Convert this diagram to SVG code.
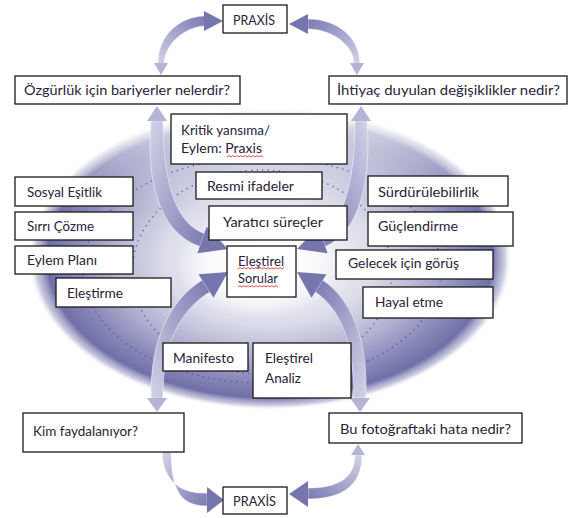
<svg xmlns="http://www.w3.org/2000/svg" width="569" height="518" viewBox="0 0 569 518">
<defs>
<style>
.box{fill:#fff;stroke:#1a1a1a;stroke-width:1.3}
.t{font-family:Lato,"Liberation Sans",sans-serif;font-size:14px;fill:#2a2238}
.arr{stroke:#ffffff;stroke-width:0.7;stroke-opacity:0.7}
.big{fill:#7676ae}
.small{fill:#b4b4d6}
.dot{fill:none;stroke:#4e4e84;stroke-width:1.5;stroke-dasharray:0.1 5.5;stroke-linecap:round;opacity:0.75}
.sq{fill:none;stroke:#e0202a;stroke-width:0.8}
</style>
<radialGradient id="sphere" gradientUnits="userSpaceOnUse" cx="270" cy="258" r="242" gradientTransform="translate(270 258) scale(1 0.628) translate(-270 -258)">
<stop offset="0" stop-color="#ffffff"/>
<stop offset="0.25" stop-color="#f0f0f6"/>
<stop offset="0.45" stop-color="#dadae9"/>
<stop offset="0.65" stop-color="#b2b2d1"/>
<stop offset="0.82" stop-color="#8686b8"/>
<stop offset="0.92" stop-color="#7070a8"/>
<stop offset="0.97" stop-color="#a8a8cc" stop-opacity="0.6"/>
<stop offset="1" stop-color="#ffffff" stop-opacity="0"/>
</radialGradient>
<radialGradient id="spot">
<stop offset="0" stop-color="#ffffff" stop-opacity="0.95"/>
<stop offset="0.6" stop-color="#ffffff" stop-opacity="0.7"/>
<stop offset="1" stop-color="#ffffff" stop-opacity="0"/>
</radialGradient>
<linearGradient id="topfade" gradientUnits="userSpaceOnUse" x1="0" y1="100" x2="0" y2="210">
<stop offset="0" stop-color="#ffffff" stop-opacity="1"/>
<stop offset="0.45" stop-color="#ffffff" stop-opacity="0.5"/>
<stop offset="1" stop-color="#ffffff" stop-opacity="0"/>
</linearGradient>
<linearGradient id="gur" x1="0" y1="1" x2="1" y2="0"><stop offset="0" stop-color="#d2d2e8"/><stop offset="1" stop-color="#7a7ab2"/></linearGradient>
<linearGradient id="gul" x1="1" y1="1" x2="0" y2="0"><stop offset="0" stop-color="#d2d2e8"/><stop offset="1" stop-color="#7a7ab2"/></linearGradient>
<linearGradient id="gdr" x1="0" y1="0" x2="1" y2="1"><stop offset="0" stop-color="#d2d2e8"/><stop offset="1" stop-color="#7a7ab2"/></linearGradient>
<linearGradient id="gdl" x1="1" y1="0" x2="0" y2="1"><stop offset="0" stop-color="#d2d2e8"/><stop offset="1" stop-color="#7a7ab2"/></linearGradient>
</defs>

<g id="background">
<rect x="0" y="0" width="569" height="518" fill="#ffffff"/>
<ellipse cx="270" cy="258" rx="242" ry="152" fill="url(#sphere)"/>
<rect x="0" y="95" width="569" height="120" fill="url(#topfade)"/>
<ellipse cx="258" cy="268" rx="82" ry="50" fill="url(#spot)"/>
<ellipse class="dot" cx="262" cy="270" rx="179" ry="113"/>
<ellipse class="dot" cx="262" cy="272" rx="130" ry="102"/>
</g>

<g id="connectors">
<path class="arr" fill="url(#gur)" d="M158,64 C157,36 180,16 205,16 L205,26 C186,27 165,42 164,64 Z"/>
<polygon class="big" points="223,21 204,11 204,31"/>
<polygon class="small" points="161,75 154,63 168,63"/>
<path class="arr" fill="url(#gul)" d="M360,64 C360,38 338,19 308,19 L308,29 C330,29 354,44 354,64 Z"/>
<polygon class="big" points="289,24 308,14 308,34"/>
<polygon class="small" points="357,75 350,63 364,63"/>
<path class="arr" fill="url(#gdr)" d="M162,452 C163,482 182,494 207,493 L207,506 C176,506 172,484 171,452 Z"/>
<polygon class="big" points="224,500 207,487 207,513"/>
<path class="arr" fill="url(#gdl)" d="M355,455 C355,478 338,488 308,488 L308,499 C343,499 362,485 362,455 Z"/>
<polygon class="big" points="289,494 308,481 308,507"/>
<polygon class="small" points="358,444 351,455 365,455"/>
<path class="arr" fill="url(#gdr)" d="M151,121 C146,185 160,232 199.7,246.6 L204.3,233.4 C176,224 163,182 163,121 Z"/>
<polygon class="big" points="228,249 206.6,226.8 197.4,253.2"/>
<polygon class="small" points="157,106 147,121 167,121"/>
<path class="arr" fill="url(#gdl)" d="M367,121 C372,185 358,232 325.3,246.6 L320.7,233.4 C343,224 355,182 355,121 Z"/>
<polygon class="big" points="297,249 318.4,226.8 327.6,253.2"/>
<polygon class="small" points="361,106 351,121 371,121"/>
<path class="arr" fill="url(#gur)" d="M202.2,280.1 C170,300 150,340 151,398 L163,398 C162,345 180,310 209.8,291.9 Z"/>
<polygon class="big" points="228,272 213.5,297.8 198.5,274.2"/>
<polygon class="small" points="157,412 147,398 167,398"/>
<path class="arr" fill="url(#gul)" d="M322.8,280.1 C352,300 368,340 366,398 L354,398 C354,345 342,310 315.2,291.9 Z"/>
<polygon class="big" points="297,272 311.5,297.8 326.5,274.2"/>
<polygon class="small" points="360,412 350,398 370,398"/>
</g>

<g id="praxis-top"><rect class="box" x="223" y="5" width="64" height="28"/><text class="t" x="233" y="25" textLength="42" lengthAdjust="spacingAndGlyphs">PRAXİS</text></g>
<g id="ozgurluk"><rect class="box" x="15" y="76" width="225" height="28"/><text class="t" x="24" y="95" textLength="206" lengthAdjust="spacingAndGlyphs">Özgürlük için bariyerler nelerdir?</text></g>
<g id="ihtiyac"><rect class="box" x="329" y="76" width="238" height="28"/><text class="t" x="337" y="95" textLength="223" lengthAdjust="spacingAndGlyphs">İhtiyaç duyulan değişiklikler nedir?</text></g>
<g id="kritik"><rect class="box" x="171" y="114" width="176" height="50"/><text class="t" x="181" y="135" textLength="89" lengthAdjust="spacingAndGlyphs">Kritik yansıma/</text><text class="t" x="181" y="153" textLength="81" lengthAdjust="spacingAndGlyphs">Eylem: Praxis</text><path class="sq" d="M227,157 l2,-1.4 l2,1.4 l2,-1.4 l2,1.4 l2,-1.4 l2,1.4 l2,-1.4 l2,1.4 l2,-1.4 l2,1.4 l2,-1.4 l2,1.4 l2,-1.4 l2,1.4 l2,-1.4 l2,1.4 l2,-1.4 l2,1.4"/></g>
<g id="sosyal"><rect class="box" x="15" y="177" width="118" height="29"/><text class="t" x="27" y="197" textLength="75" lengthAdjust="spacingAndGlyphs">Sosyal Eşitlik</text></g>
<g id="resmi"><rect class="box" x="196" y="172" width="126" height="27"/><text class="t" x="207" y="191" textLength="87" lengthAdjust="spacingAndGlyphs">Resmi ifadeler</text></g>
<g id="surdurulebilirlik"><rect class="box" x="368" y="176" width="140" height="30"/><text class="t" x="378" y="197" textLength="101" lengthAdjust="spacingAndGlyphs">Sürdürülebilirlik</text></g>
<g id="sirri"><rect class="box" x="15" y="212" width="118" height="28"/><text class="t" x="27" y="231" textLength="67" lengthAdjust="spacingAndGlyphs">Sırrı Çözme</text></g>
<g id="yaratici"><rect class="box" x="209" y="206" width="138" height="34"/><text class="t" x="223" y="227" textLength="100" lengthAdjust="spacingAndGlyphs">Yaratıcı süreçler</text></g>
<g id="guclendirme"><rect class="box" x="368" y="212" width="145" height="34"/><text class="t" x="378" y="231" textLength="80" lengthAdjust="spacingAndGlyphs">Güçlendirme</text></g>
<g id="eylem-plani"><rect class="box" x="15" y="246" width="118" height="28"/><text class="t" x="27" y="265" textLength="70" lengthAdjust="spacingAndGlyphs">Eylem Planı</text></g>
<g id="elestirel-sorular"><rect class="box" x="227" y="246" width="69" height="51"/><text class="t" x="238" y="266" textLength="46" lengthAdjust="spacingAndGlyphs">Eleştirel</text><text class="t" x="238" y="283" textLength="40" lengthAdjust="spacingAndGlyphs">Sorular</text><path class="sq" d="M238,269 l2,-1.4 l2,1.4 l2,-1.4 l2,1.4 l2,-1.4 l2,1.4 l2,-1.4 l2,1.4 l2,-1.4 l2,1.4 l2,-1.4 l2,1.4 l2,-1.4 l2,1.4 l2,-1.4 l2,1.4 l2,-1.4 l2,1.4 l2,-1.4 l2,1.4 l2,-1.4 l2,1.4 l2,-1.4"/><path class="sq" d="M238,287 l2,-1.4 l2,1.4 l2,-1.4 l2,1.4 l2,-1.4 l2,1.4 l2,-1.4 l2,1.4 l2,-1.4 l2,1.4 l2,-1.4 l2,1.4 l2,-1.4 l2,1.4 l2,-1.4 l2,1.4 l2,-1.4 l2,1.4 l2,-1.4 l2,1.4"/></g>
<g id="gelecek"><rect class="box" x="336" y="250" width="157" height="29"/><text class="t" x="348" y="268" textLength="111" lengthAdjust="spacingAndGlyphs">Gelecek için görüş</text></g>
<g id="elestirme"><rect class="box" x="56" y="278" width="115" height="29"/><text class="t" x="67" y="298" textLength="56" lengthAdjust="spacingAndGlyphs">Eleştirme</text></g>
<g id="hayal"><rect class="box" x="363" y="287" width="130" height="31"/><text class="t" x="375" y="307" textLength="68" lengthAdjust="spacingAndGlyphs">Hayal etme</text></g>
<g id="manifesto"><rect class="box" x="163" y="343" width="85" height="28"/><text class="t" x="173" y="363" textLength="61" lengthAdjust="spacingAndGlyphs">Manifesto</text></g>
<g id="elestirel-analiz"><rect class="box" x="253" y="343" width="98" height="55"/><text class="t" x="265" y="363" textLength="48" lengthAdjust="spacingAndGlyphs">Eleştirel</text><text class="t" x="265" y="383" textLength="36" lengthAdjust="spacingAndGlyphs">Analiz</text></g>
<g id="kim"><rect class="box" x="23" y="413" width="161" height="39"/><text class="t" x="33" y="436" textLength="105" lengthAdjust="spacingAndGlyphs">Kim faydalanıyor?</text></g>
<g id="bu"><rect class="box" x="329" y="413" width="193" height="30"/><text class="t" x="340" y="434" textLength="171" lengthAdjust="spacingAndGlyphs">Bu fotoğraftaki hata nedir?</text></g>
<g id="praxis-bottom"><rect class="box" x="223" y="487" width="64" height="27"/><text class="t" x="233" y="506" textLength="43" lengthAdjust="spacingAndGlyphs">PRAXİS</text></g>
</svg>
